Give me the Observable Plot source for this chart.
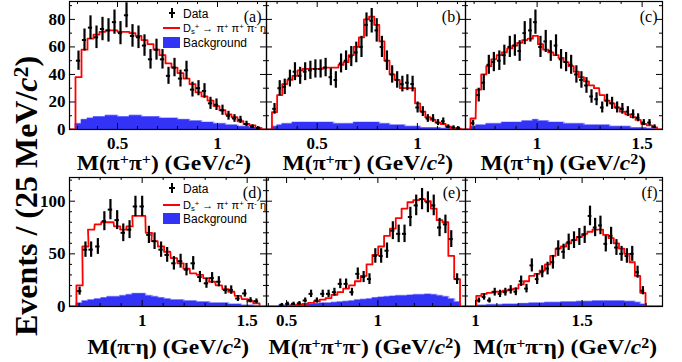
<!DOCTYPE html>
<html><head><meta charset="utf-8">
<script src="https://cdn.jsdelivr.net/npm/d3@7"></script>
<script src="https://cdn.jsdelivr.net/npm/@observablehq/plot@0.6"></script>
<style>
html,body{margin:0;padding:0;background:#fff;}
#root{position:relative;width:682px;height:362px;overflow:hidden;background:#fff;}
#root svg{position:absolute;}
.t{position:absolute;white-space:nowrap;line-height:1;}
.xt{font:bold 21px "Liberation Serif",serif;transform-origin:100% 50%;transform:translateX(-100%) scaleX(1.12);}
.yt{font:bold 32px "Liberation Serif",serif;transform:translate(-50%,-50%) rotate(-90deg);}
.sp{position:relative;top:-0.42em;font-size:0.68em;}
.lg{font:12px "Liberation Sans",Arial,sans-serif;}
.lg2{font:11px "Liberation Sans",Arial,sans-serif;}
.ps{position:relative;top:-0.35em;font-size:0.7em;}
.sb{position:relative;top:0.3em;font-size:0.7em;}
.box{position:absolute;}
</style></head><body><div id="root"></div>
<script>
// ---- panel (a) M(pi+ pi+) ----
const aX = [0.305,0.335,0.365,0.395,0.425,0.455,0.485,0.515,0.545,0.575,0.605,0.635,0.665,0.695,0.725,0.755,0.785,0.815,0.845,0.875,0.905,0.935,0.965,0.995,1.025,1.055,1.085,1.115,1.145,1.175,1.205];
const aY = [50,65,74,67,73,72,78,70,83,68,67,61,51,58,51,39,45,37,43,29,30,28,19,18,14,10,8,7,4,2,1];
const aE = [7,8,8.6,8.2,8.5,8.5,8.8,8.4,9.1,8.2,8.2,7.8,7.1,7.6,7.1,6.2,6.7,6.1,6.6,5.4,5.5,5.3,4.4,4.2,3.7,3.2,2.8,2.6,2,1.4,1];
const aF = [38,58,66,69,71,72,72,71,71,70,68,65,62,58,54,48,45,41,37,33,27,24,21,17,14,11,9,6,4,3,1];
const aB = [4,7,8,9,9,10,10,9,9,10,10,9,9,9,8,8,8,7,7,6,6,5,5,4,4,3,3,2,2,1,1];
// ---- panel (b) M(pi+ pi-) ----
const bX = [0.287,0.313,0.338,0.364,0.389,0.415,0.440,0.466,0.491,0.517,0.542,0.568,0.593,0.619,0.644,0.670,0.695,0.721,0.746,0.772,0.797,0.823,0.848,0.874,0.899,0.925,0.950,0.976,1.001,1.027,1.052,1.078,1.103,1.129,1.154,1.180,1.205];
const bY = [15,30,31,37,42,39,42,43,44,44,45,38,36,48,50,53,56,60,76,79,72,60,50,40,36,33,34,33,16,13,8,8,5,6,2,1.5,1];
const bE = [3.9,5.5,5.6,6.1,6.5,6.2,6.5,6.6,6.6,6.6,6.7,6.2,6,6.9,7.1,7.3,7.5,7.7,8.7,8.9,8.5,7.7,7.1,6.3,6,5.7,5.8,5.7,4,3.6,2.8,2.8,2.2,2.4,1.4,1.2,1];
const bF = [12.6,25,33,36,39,43,44,44,44,44,45,45,45,47,49,54,60,67,80,82,76,64,50,40,36,30,30,30,19,13,9,7,5,4,2,1,0.7];
const bB = [2,3,4,4,5,5,5,5,5,5,5,5,4,4,4,4,5,5,5,5,5,4,4,3,3,3,2,2,2,1,1,1,1,0.5,0.5,0.5,0.3];
// ---- panel (c) M(pi+ eta) ----
const cX = [0.695,0.722,0.746,0.770,0.794,0.820,0.844,0.870,0.894,0.917,0.941,0.968,0.992,1.016,1.041,1.065,1.090,1.114,1.138,1.162,1.187,1.211,1.235,1.259,1.283,1.310,1.333,1.357,1.381,1.406,1.432,1.457,1.481,1.508,1.535,1.559];
const cY = [4.6,25,34,47,49,50,54,60,61,57,70,72,78,60,64,57,61,51,49,47,40,36,32,24,22,16,21,19,16,15,13,11,8.5,5,5,2];
const cE = [2.1,5,5.8,6.9,7,7.1,7.3,7.7,7.8,7.5,8.4,8.5,8.8,7.7,8,7.5,7.8,7.1,7,6.9,6.3,6,5.7,4.9,4.7,4,4.6,4.4,4,3.9,3.6,3.3,2.9,2.2,2.2,1.4];
const cF = [8,29,40,46,51,54,56,59,61,63,65,66,68,62,58,56,54,52,49,46,42,38,35,32,30,25,21,19,16,13,11,9,7,4,3,1.5];
const cB = [2,3,3,4,4,4,5,5,5,5,6,6,7,6,6,5,5,5,4,4,4,4,3,3,3,3,3,2,2,2,2,1,1,1,0.5,0.3];
// ---- panel (d) M(pi- eta) ----
const dX = [0.702,0.730,0.757,0.789,0.820,0.849,0.881,0.910,0.940,0.968,1.000,1.032,1.059,1.090,1.119,1.151,1.183,1.211,1.243,1.275,1.306,1.333,1.365,1.397,1.424,1.456,1.489,1.516,1.544];
const dY = [14.6,54,54,57,81,92,82,70,73,95,95,68,62,54,49,41,43,35,41,28,22,27,23.5,15.6,15.6,7.6,12.4,6,5];
const dE = [3.8,7.3,7.3,7.5,9,9.6,9,8.4,8.5,9.7,9.7,8.2,7.9,7.3,7,6.4,6.6,5.9,6.4,5.3,4.7,5.2,4.8,4,4,2.8,3.5,2.4,2.2];
const dF = [20,57,73,78,80,80,76,73,76,86,86,70,62,57,52,46,41,36,31.5,30,27,23.5,20,16.5,14,10,7,5,3];
const dB = [3,5,6,7,8,9,9,10,11,12,12,10,9,8,7,6,6,5,5,4,4,3,3,3,2,2,1,1,0.5];
// ---- panel (e) M(pi+ pi+ pi-) ----
const eX = [0.474,0.506,0.538,0.570,0.602,0.634,0.666,0.698,0.730,0.762,0.794,0.826,0.858,0.890,0.922,0.954,0.986,1.018,1.050,1.082,1.114,1.146,1.178,1.210,1.242,1.274,1.306,1.338,1.370,1.402,1.434];
const eY = [1.6,2.5,2.5,3,5.7,12,5.7,12,12,13.6,21.5,21.5,13.6,31,28,26,48,48,53,72,69,69,85,96,102,99,96,75,78,64,26];
const eE = [1.3,1.6,1.6,1.7,2.4,3.5,2.4,3.5,3.5,3.7,4.6,4.6,3.7,5.6,5.3,5.1,6.9,6.9,7.3,8.5,8.3,8.3,9.2,9.8,10.1,9.9,9.8,8.7,8.8,8,5.1];
const eF = [0,0.5,1,1.5,2.5,3.5,5,6.5,8,11,13.6,17,20,24,29,40,49,57,67,74,84,93,99,101,102,100,93,82,80,48,26];
const eB = [1,1,1.5,1.5,2,2,2.5,3,3,3.5,4,4.5,5,6,6.5,7,8,8.5,9,9.5,10,10,10.5,11,11,11.5,11,10,9,7,4];
// ---- panel (f) M(pi+ pi- eta) ----
const fX = [1.016,1.040,1.065,1.090,1.115,1.140,1.165,1.189,1.214,1.239,1.264,1.289,1.313,1.338,1.363,1.388,1.413,1.437,1.462,1.487,1.512,1.537,1.561,1.586,1.611,1.636,1.661,1.685,1.710,1.735,1.760,1.785];
const fY = [5.7,9,5.7,13.6,12,13.6,15.8,14,24,17,39,26,33,36,42,55,52,61,63,66,68,86,75,77,59.5,67,56,50,48,50,32.6,15];
const fE = [2.4,3,2.4,3.7,3.5,3.7,4,3.7,4.9,4.1,6.2,5.1,5.7,6,6.5,7.4,7.2,7.8,7.9,8.1,8.2,9.3,8.7,8.8,7.7,8.2,7.5,7.1,6.9,7.1,5.7,3.9];
const fF = [10,12,13,14,14,15,16,17,21,24,29,31,34,40,48,55,57,60,63,66,69,71,73,73,68,65,60,55,50,42,29,13];
const fB = [1,1,1.5,1.5,1.5,2,2,2,2.5,2.5,3,3,3,3.5,3.5,3.5,4,4,4,4.5,4.5,4.5,5,5,5,5,5,5,4.5,4.5,3.5,2];

// ---- tick values ----
const ticksLow = [0.5, 1];
const minorLow = [0.3,0.4,0.6,0.7,0.8,0.9,1.1,1.2];
const ticksMid = [1, 1.5];
const minorMid = [0.7,0.8,0.9,1.1,1.2,1.3,1.4];
const ticksE = [0.5, 1];
const minorE = [0.4,0.6,0.7,0.8,0.9,1.1,1.2,1.3,1.4];
const ticksF = [1, 1.5];
const minorF = [1.1,1.2,1.3,1.4,1.6,1.7,1.8];
const yTop = [0,20,40,60,80];
const yTopMinor = [10,30,50,70,90];
const yBot = [0,50,100];
const yBotMinor = [10,20,30,40,60,70,80,90,110,120];

const titles = {
  a: 'M(π<span class="sp">+</span>π<span class="sp">+</span>) (GeV/<i>c</i><span class="sp">2</span>)',
  b: 'M(π<span class="sp">+</span>π<span class="sp">-</span>) (GeV/<i>c</i><span class="sp">2</span>)',
  c: 'M(π<span class="sp">+</span>η) (GeV/<i>c</i><span class="sp">2</span>)',
  d: 'M(π<span class="sp">-</span>η) (GeV/<i>c</i><span class="sp">2</span>)',
  e: 'M(π<span class="sp">+</span>π<span class="sp">+</span>π<span class="sp">-</span>) (GeV/<i>c</i><span class="sp">2</span>)',
  f: 'M(π<span class="sp">+</span>π<span class="sp">-</span>η) (GeV/<i>c</i><span class="sp">2</span>)'
};

const panels = [
  {id:"a", X:aX, Y:aY, E:aE, F:aF, B:aB, w:0.030, x0:69, x1:266, y0:1, y1:129, xDom:[0.26,1.245], yDom:[0,93], xt:ticksLow, xm:minorLow, yt:yTop, ym:yTopMinor, showY:true, tr:251, tt:151},
  {id:"b", X:bX, Y:bY, E:bE, F:bF, B:bB, w:0.0255, x0:266, x1:465, y0:1, y1:129, xDom:[0.247,1.24], yDom:[0,93], xt:ticksLow, xm:minorLow, yt:yTop, ym:yTopMinor, showY:false, tr:453, tt:151},
  {id:"c", X:cX, Y:cY, E:cE, F:cF, B:cB, w:0.0245, x0:465, x1:662, y0:1, y1:129, xDom:[0.659,1.597], yDom:[0,93], xt:ticksMid, xm:minorMid, yt:yTop, ym:yTopMinor, showY:false, tr:646, tt:151},
  {id:"d", X:dX, Y:dY, E:dE, F:dF, B:dB, w:0.030, x0:69, x1:266, y0:177, y1:306, xDom:[0.654,1.592], yDom:[0,122.5], xt:ticksMid, xm:minorMid, yt:yBot, ym:yBotMinor, showY:true, tr:249, tt:335},
  {id:"e", X:eX, Y:eY, E:eE, F:eF, B:eB, w:0.032, x0:266, x1:465, y0:177, y1:306, xDom:[0.39,1.48], yDom:[0,122.5], xt:ticksE, xm:minorE, yt:yBot, ym:yBotMinor, showY:false, tr:461, tt:335},
  {id:"f", X:fX, Y:fY, E:fE, F:fF, B:fB, w:0.0248, x0:465, x1:662, y0:177, y1:306, xDom:[0.953,1.877], yDom:[0,122.5], xt:ticksF, xm:minorF, yt:yBot, ym:yBotMinor, showY:false, tr:657, tt:335}
];

const root = document.getElementById("root");
const serif = "Liberation Serif, Times New Roman, serif";

function stepTable(X, V, w, dom) {
  const s = [{x: dom[0], v: 0}, {x: X[0] - w/2, v: 0}];
  X.forEach((x, i) => { s.push({x: x - w/2, v: V[i]}); s.push({x: x + w/2, v: V[i]}); });
  s.push({x: X[X.length-1] + w/2, v: 0});
  s.push({x: dom[1], v: 0});
  return s;
}

for (const p of panels) {
  const fw = p.x1 - p.x0, fh = p.y1 - p.y0;
  const mL = p.showY ? 60 : 2, mR = 2, mT = 2, mB = 26;
  const pts = p.X.map((x, i) => ({x, y: p.Y[i], e: p.E[i]}));
  const fit = stepTable(p.X, p.F, p.w, p.xDom);
  const bkg = stepTable(p.X, p.B, p.w, p.xDom);
  const marks = [
    Plot.line(bkg, {x: "x", y: "v", stroke: "#a4a4ff", strokeWidth: 2.4, clip: true}),
    Plot.areaY(bkg, {x: "x", y1: 0, y2: "v", fill: "#3333f8", clip: true}),
    Plot.line(fit, {x: "x", y: "v", stroke: "#ff0000", strokeWidth: 1.8, clip: true}),
    Plot.ruleX(pts, {x: "x", y1: d => d.y - d.e, y2: d => d.y + d.e, stroke: "black", strokeWidth: 2.2, clip: true}),
    Plot.ruleY(pts, {y: "y", x1: d => d.x - p.w * 0.35, x2: d => d.x + p.w * 0.35, stroke: "black", strokeWidth: 2, clip: true}),
    Plot.tickX(p.xt, {insetTop: fh - 6, stroke: "black"}),
    Plot.tickX(p.xt, {insetBottom: fh - 6, stroke: "black"}),
    Plot.tickX(p.xm, {insetTop: fh - 3, stroke: "black"}),
    Plot.tickX(p.xm, {insetBottom: fh - 3, stroke: "black"}),
    Plot.tickY(p.yt, {insetRight: fw - 6, stroke: "black"}),
    Plot.tickY(p.yt, {insetLeft: fw - 6, stroke: "black"}),
    Plot.tickY(p.ym, {insetRight: fw - 3, stroke: "black"}),
    Plot.tickY(p.ym, {insetLeft: fw - 3, stroke: "black"}),
    Plot.axisX({ticks: p.xt, tickSize: 0, tickPadding: 7, tickFormat: d => String(d), label: null, fontSize: 17, fontWeight: "bold", fontFamily: serif}),
    Plot.text([`(${p.id})`], {frameAnchor: "top-right", dx: -5, dy: 9, fontSize: 16, fontFamily: serif, fill: "black"}),
    Plot.frame({stroke: "black", strokeWidth: 1.2})
  ];
  if (p.showY) marks.push(Plot.axisY({ticks: p.yt, tickSize: 0, tickPadding: 4, tickFormat: d => String(d), label: null, fontSize: 17, fontWeight: "bold", fontFamily: serif}));
  const svg = Plot.plot({
    width: fw + mL + mR, height: fh + mT + mB,
    marginLeft: mL, marginRight: mR, marginTop: mT, marginBottom: mB,
    x: {domain: p.xDom},
    y: {domain: p.yDom, axis: p.showY ? undefined : null},
    style: {background: "transparent", overflow: "visible"},
    marks
  });
  svg.style.left = (p.x0 - mL) + "px";
  svg.style.top = (p.y0 - mT) + "px";
  root.appendChild(svg);
  const t = document.createElement("div");
  t.className = "t xt";
  t.style.left = p.tr + "px";
  t.style.top = p.tt + "px";
  t.innerHTML = titles[p.id];
  root.appendChild(t);
}

// Y axis title
const yt = document.createElement("div");
yt.className = "t yt";
yt.style.left = "26px"; yt.style.top = "196px";
yt.innerHTML = 'Events / (25 MeV/<i>c</i><span class="sp">2</span>)';
root.appendChild(yt);

// Legends in (a) and (d)
function legend(rowY) {
  const items = [
    ['Data', rowY[0], 'lg'],
    ['D<span class="sb">s</span><span class="ps">+</span> → π<span class="ps">+</span> π<span class="ps">+</span> π<span class="ps">-</span> η', rowY[1], 'lg2'],
    ['Background', rowY[2], 'lg']
  ];
  for (const [html, cy, cls] of items) {
    const d = document.createElement("div");
    d.className = "t " + cls;
    d.style.left = "183px"; d.style.top = (cy - 6) + "px";
    d.innerHTML = html;
    root.appendChild(d);
  }
  const bar = document.createElement("div");
  bar.className = "box";
  Object.assign(bar.style, {left: "171px", top: (rowY[0] - 5) + "px", width: "2px", height: "10px", background: "black"});
  root.appendChild(bar);
  const hb = document.createElement("div");
  hb.className = "box";
  Object.assign(hb.style, {left: "169px", top: (rowY[0] - 1) + "px", width: "6px", height: "2px", background: "black"});
  root.appendChild(hb);
  const rl = document.createElement("div");
  rl.className = "box";
  Object.assign(rl.style, {left: "163px", top: (rowY[1] - 1) + "px", width: "17px", height: "2px", background: "#ff0000"});
  root.appendChild(rl);
  const bx = document.createElement("div");
  bx.className = "box";
  Object.assign(bx.style, {left: "163px", top: (rowY[2] - 5) + "px", width: "17px", height: "11px", background: "#3333f8"});
  root.appendChild(bx);
}
legend([12.5, 28, 41.5]);
legend([188, 204.5, 217.5]);
</script></body></html>
